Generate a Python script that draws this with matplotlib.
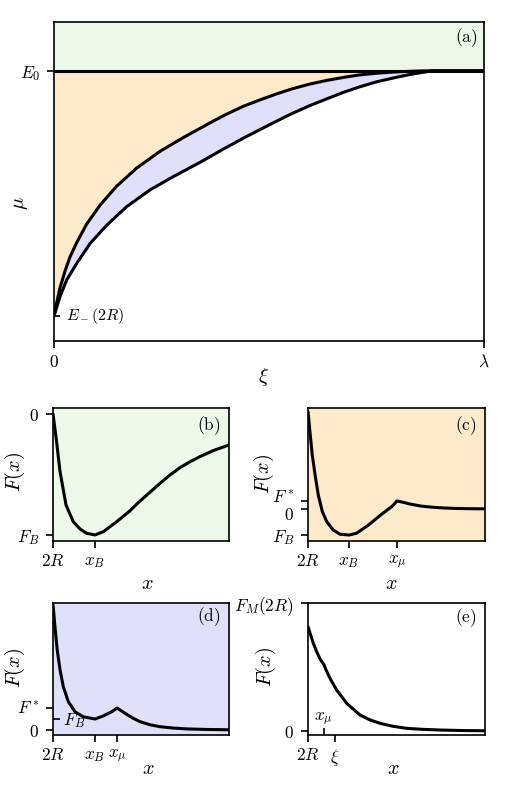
import matplotlib
matplotlib.use('Agg')
import matplotlib.pyplot as plt
from matplotlib.transforms import ScaledTranslation

plt.rcParams['mathtext.fontset'] = 'cm'
plt.rcParams['font.family'] = ['DejaVu Serif']
plt.rcParams['axes.linewidth'] = 1.2

# ---------------- data ----------------
# Panel (a): xi in units of lambda, mu scaled so E_-(2R)=0, E_0=1
xi_up = [0, 0.006, 0.014, 0.026, 0.037, 0.053, 0.076, 0.107, 0.146, 0.192, 0.247,
         0.301, 0.363, 0.40, 0.44, 0.48, 0.518, 0.555, 0.595, 0.635, 0.673, 0.71,
         0.75, 0.79, 0.828, 0.855, 0.881, 1.0]
mu_up = [0, 0.052, 0.115, 0.185, 0.240, 0.300, 0.375, 0.452, 0.530, 0.603, 0.672,
         0.728, 0.788, 0.822, 0.855, 0.882, 0.906, 0.927, 0.946, 0.961, 0.973, 0.983,
         0.990, 0.995, 0.998, 0.9995, 1.0, 1.0]
xi_lo = [0, 0.014, 0.0295, 0.053, 0.084, 0.123, 0.169, 0.223, 0.277, 0.34, 0.39,
         0.44, 0.48, 0.518, 0.555, 0.595, 0.635, 0.673, 0.71, 0.75, 0.79, 0.828,
         0.855, 0.881, 1.0]
mu_lo = [0, 0.079, 0.147, 0.215, 0.296, 0.371, 0.446, 0.514, 0.568, 0.627, 0.677,
         0.725, 0.761, 0.795, 0.827, 0.858, 0.886, 0.912, 0.934, 0.955, 0.971, 0.985,
         0.993, 1.0, 1.0]
E_minus = 0.0
E_0 = 1.0

# Panel (b)
x_b = [0, 0.018, 0.040, 0.074, 0.115, 0.153, 0.191, 0.239, 0.286, 0.362, 0.4375,
       0.494, 0.551, 0.608, 0.665, 0.722, 0.778, 0.835, 0.911, 1.0]
F_b = [0, -0.20, -0.477, -0.752, -0.890, -0.950, -0.986, -1.0, -0.973, -0.890,
       -0.80, -0.72, -0.647, -0.573, -0.504, -0.443, -0.395, -0.352, -0.302, -0.256]
xB_b = 0.239
FB_b = -1.0

# Panel (c)
x_c = [0, 0.011, 0.024, 0.040, 0.058, 0.081, 0.106, 0.143, 0.181, 0.232, 0.275,
       0.341, 0.416, 0.473, 0.503, 0.548, 0.576, 0.64, 0.708, 0.77, 0.84, 0.92, 1.0]
F_c = [3.75, 2.97, 2.08, 1.31, 0.54, -0.10, -0.49, -0.81, -0.97, -1.0, -0.93,
       -0.62, -0.20, 0.09, 0.31, 0.24, 0.19, 0.11, 0.065, 0.038, 0.02, 0.01, 0.005]
xB_c, xmu_c = 0.232, 0.503
FB_c, Fstar_c = -1.0, 0.31

# Panel (d)
x_d = [0, 0.011, 0.024, 0.040, 0.0585, 0.087, 0.125, 0.172, 0.239, 0.286, 0.334,
       0.364, 0.409, 0.456, 0.494, 0.55, 0.608, 0.68, 0.760, 0.87, 1.0]
F_d = [5.7, 4.70, 3.64, 2.73, 1.97, 1.29, 0.83, 0.60, 0.50, 0.64, 0.83,
       1.0, 0.76, 0.53, 0.38, 0.24, 0.15, 0.09, 0.05, 0.025, 0.01]
xB_d, xmu_d = 0.239, 0.364
FB_d, Fstar_d = 0.5, 1.0

# Panel (e)
x_e = [0, 0.015, 0.030, 0.049, 0.068, 0.090, 0.102, 0.124, 0.162, 0.219, 0.294,
       0.35, 0.407, 0.48, 0.558, 0.65, 0.746, 0.87, 1.0]
F_e = [0.815, 0.75, 0.685, 0.62, 0.5625, 0.518, 0.477, 0.412, 0.320, 0.216, 0.125,
       0.087, 0.060, 0.037, 0.021, 0.013, 0.008, 0.004, 0.002]
xmu_e, xi_e = 0.090, 0.153
FM_e = 1.0

green = '#eef8ea'
orange = '#fdeacb'
blue = '#e0e0fb'

LW = 2.2
TICK_FS = 12.5
LAB_FS = 14.5
PANEL_FS = 12.5

fig = plt.figure(figsize=(5.07, 7.90), dpi=100)
W, H = 507, 790


def axes_px(l, t, r, b):
    return fig.add_axes([l / W, 1 - b / H, (r - l) / W, (b - t) / H])


def style(ax):
    ax.tick_params(which='major', direction='out', length=5, width=1.2,
                   labelsize=TICK_FS)
    ax.tick_params(axis='x', which='major', pad=4)
    ax.tick_params(axis='y', which='major', pad=5)
    for s in ax.spines.values():
        s.set_linewidth(1.2)


def labels(ax, xl, yl, xpos, ypos):
    ax.set_xlabel(xl, fontsize=LAB_FS)
    ax.set_ylabel(yl, fontsize=LAB_FS)
    ax.xaxis.label.set_va('center')
    ax.yaxis.label.set_va('center')
    ax.xaxis.set_label_coords(*xpos)
    ax.yaxis.set_label_coords(*ypos)


def panel(ax, s, x, y):
    ax.text(x, y, r'$\mathrm{(%s)}$' % s, transform=ax.transAxes, ha='right',
            va='center', fontsize=PANEL_FS)


def curve(ax, x, y, **kw):
    ax.plot(x, y, color='k', lw=LW, solid_joinstyle='round',
            solid_capstyle='round', **kw)


# ---------------- (a) ----------------
ax = axes_px(54, 22, 484, 341)
style(ax)
ax.set_xlim(0, 1)
ax.set_ylim(-0.102, 1.199)
ax.axhspan(E_0, 1.199, color=green, lw=0, zorder=0)
ax.fill_between(xi_up, mu_up, E_0, color=orange, lw=0, zorder=0)
ax.fill(xi_up + xi_lo[::-1], mu_up + mu_lo[::-1], color=blue, lw=0, zorder=0)
ax.axhline(E_0, color='k', lw=LW, zorder=2)
curve(ax, xi_up, mu_up, zorder=3)
curve(ax, xi_lo, mu_lo, zorder=3)
ax.set_xticks([0, 1])
ax.set_xticklabels(['$0$', r'$\lambda$'])
ax.set_yticks([E_0])
ax.set_yticklabels(['$E_0$'])
ax.set_yticks([E_minus], minor=True)
ax.tick_params(axis='y', which='minor', direction='in', length=4, width=1.2)
ax.text(0.029, E_minus, r'$E_-(2R)$', fontsize=11.5, va='center', ha='left')
labels(ax, r'$\xi$', r'$\mu$', (0.488, -0.113), (-0.079, 0.433))
panel(ax, 'a', 0.984, 0.951)

# ---------------- (b) ----------------
ax = axes_px(53, 408, 229, 541)
style(ax)
ax.set_facecolor(green)
ax.set_xlim(0, 1)
ax.set_ylim(-1.05, 0.05)
curve(ax, x_b, F_b)
ax.set_xticks([0, xB_b])
ax.set_xticklabels(['$2R$', '$x_B$'])
ax.set_yticks([0, FB_b])
ax.set_yticklabels(['$0$', '$F_B$'])
labels(ax, '$x$', '$F(x)$', (0.534, -0.316), (-0.216, 0.519))
panel(ax, 'b', 0.949, 0.865)

# ---------------- (c) ----------------
ax = axes_px(308, 408, 485, 541)
style(ax)
ax.set_facecolor(orange)
ax.set_xlim(0, 1)
ax.set_ylim(-1.23, 3.88)
curve(ax, x_c, F_c)
ax.set_xticks([0, xB_c, xmu_c])
ax.set_xticklabels(['$2R$', '$x_B$', r'$x_\mu$'])
ax.set_yticks([Fstar_c, 0, FB_c])
ax.set_yticklabels(['$F^*$', '$0$', '$F_B$'])
ylabs = ax.get_yticklabels()
ylabs[0].set_transform(ylabs[0].get_transform() +
                       ScaledTranslation(0, 2.5 / 72, fig.dpi_scale_trans))
ylabs[1].set_transform(ylabs[1].get_transform() +
                       ScaledTranslation(0, -3.5 / 72, fig.dpi_scale_trans))
labels(ax, '$x$', '$F(x)$', (0.469, -0.323), (-0.251, 0.508))
panel(ax, 'c', 0.955, 0.865)

# ---------------- (d) ----------------
ax = axes_px(53, 603, 229, 735)
style(ax)
ax.set_facecolor(blue)
ax.set_xlim(0, 1)
ax.set_ylim(-0.227, 5.77)
curve(ax, x_d, F_d)
ax.set_xticks([0, xB_d, xmu_d])
ax.set_xticklabels(['$2R$', '$x_B$', r'$x_\mu$'])
ax.set_yticks([Fstar_d, 0])
ax.set_yticklabels(['$F^*$', '$0$'])
ax.set_yticks([FB_d], minor=True)
ax.tick_params(axis='y', which='minor', direction='in', length=5, width=1.2)
ax.text(0.055, FB_d - 0.08, '$F_B$', fontsize=TICK_FS, va='center', ha='left')
labels(ax, '$x$', '$F(x)$', (0.54, -0.25), (-0.219, 0.511))
panel(ax, 'd', 0.949, 0.894)

# ---------------- (e) ----------------
ax = axes_px(308, 603, 485, 735)
style(ax)
ax.set_xlim(0, 1)
ax.set_ylim(-0.031, 1.0)
curve(ax, x_e, F_e)
ax.set_xticks([0, xi_e])
ax.set_xticklabels(['$2R$', r'$\xi$'])
ax.set_xticks([xmu_e], minor=True)
ax.tick_params(axis='x', which='minor', direction='in', length=5, width=1.2)
ax.text(xmu_e, 0.094, r'$x_\mu$', fontsize=TICK_FS, va='center', ha='center')
ax.set_yticks([FM_e, 0])
ax.set_yticklabels(['$F_M(2R)$', '$0$'])
labels(ax, '$x$', '$F(x)$', (0.48, -0.25), (-0.24, 0.515))
panel(ax, 'e', 0.955, 0.886)

fig.savefig('out.png', dpi=100)
